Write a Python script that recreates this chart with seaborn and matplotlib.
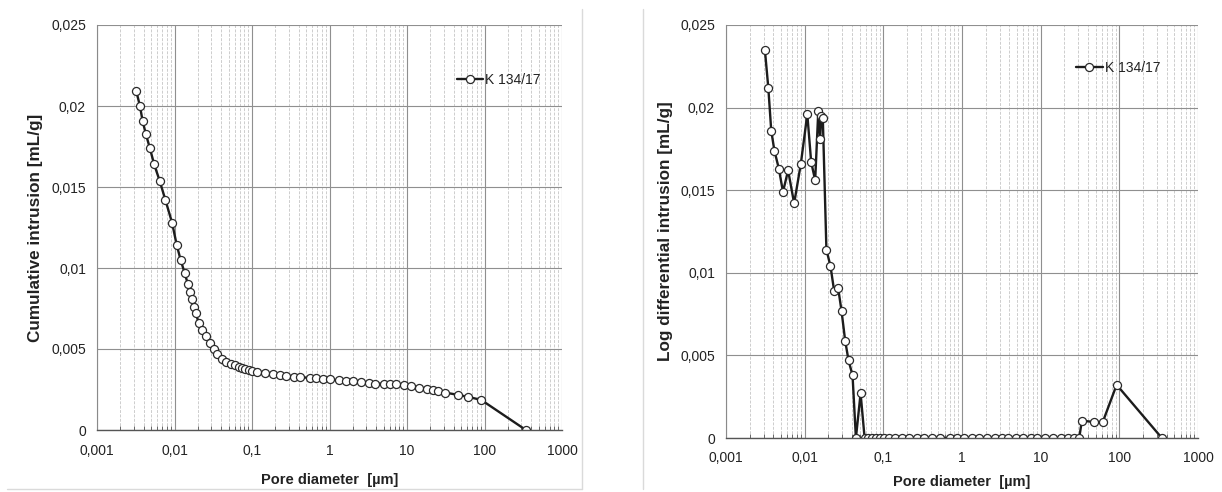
import numpy as np
import pandas as pd
import matplotlib
matplotlib.use("Agg")
import matplotlib.pyplot as plt
from matplotlib.lines import Line2D
from matplotlib.ticker import LogLocator, NullFormatter
import seaborn as sns

# --- cumulative intrusion curve (pore diameter in µm, volume in mL/g) ---
cum_diameter = [0.00322, 0.00358, 0.00387, 0.00425, 0.00481, 0.00546, 0.00642, 0.00763,
                0.0093, 0.0107, 0.012, 0.0135, 0.0149, 0.016, 0.017, 0.0179, 0.0188,
                0.0206, 0.0227, 0.0256, 0.0286, 0.0319, 0.0356, 0.0406, 0.0468, 0.0533,
                0.060, 0.067, 0.0741, 0.0819, 0.0905, 0.100, 0.116, 0.149, 0.184, 0.227,
                0.278, 0.346, 0.419, 0.554, 0.677, 0.827, 1.03, 1.32, 1.62, 2.04, 2.54,
                3.19, 3.86, 5.01, 6.12, 7.26, 9.14, 11.4, 14.2, 17.9, 21.8, 25.4, 31.0,
                45.4, 60.6, 90.5, 342]
cum_volume = [0.0209, 0.0200, 0.0191, 0.0183, 0.0174, 0.0164, 0.0154, 0.0142,
              0.0128, 0.0114, 0.0105, 0.0097, 0.0090, 0.0085, 0.0081, 0.0076, 0.0072,
              0.0066, 0.0062, 0.0058, 0.0054, 0.0050, 0.0047, 0.0044, 0.0042, 0.0041,
              0.0040, 0.0039, 0.0038, 0.00375, 0.0037, 0.00364, 0.00358, 0.00352, 0.00346, 0.0034,
              0.00333, 0.00328, 0.00326, 0.00322, 0.00318, 0.00316, 0.00312, 0.00306, 0.00304, 0.0030, 0.00296,
              0.00291, 0.00287, 0.00285, 0.00283, 0.00281, 0.00275, 0.00269, 0.0026, 0.00252, 0.00246, 0.00242, 0.00231,
              0.00217, 0.00205, 0.00186, 0.0]

# --- log differential intrusion curve ---
diff_diameter = [0.00312, 0.00345, 0.00376, 0.00412, 0.0047, 0.0053, 0.00616, 0.00735,
                 0.00894, 0.0108, 0.0121, 0.0136, 0.0149, 0.0157, 0.0163, 0.0170,
                 0.0189, 0.0213, 0.0237, 0.0266, 0.0294, 0.0327, 0.0361, 0.0406,
                 0.0448, 0.0514, 0.0578, 0.0644, 0.0717, 0.0806, 0.0906, 0.102, 0.118,
                 0.142, 0.175, 0.215, 0.267, 0.330, 0.410, 0.532, 0.695, 0.855, 1.05,
                 1.33, 1.64, 2.08, 2.64, 3.24, 3.87, 4.91, 6.04, 7.43, 8.89, 11.3, 14.3,
                 18.1, 22.3, 26.6, 30.9, 33.4, 47.2, 61.6, 92.4, 347]
diff_volume = [0.0235, 0.0212, 0.0186, 0.0174, 0.0163, 0.0149, 0.0162, 0.0142,
               0.0166, 0.0196, 0.0167, 0.0156, 0.0198, 0.0181, 0.0195, 0.0194,
               0.0114, 0.0104, 0.0089, 0.0091, 0.0077, 0.0059, 0.0047, 0.0038,
               0.0, 0.0027, 0.0, 0.0, 0.0, 0.0, 0.0, 0.0, 0.0,
               0.0, 0.0, 0.0, 0.0, 0.0, 0.0, 0.0, 0.0, 0.0, 0.0,
               0.0, 0.0, 0.0, 0.0, 0.0, 0.0, 0.0, 0.0, 0.0, 0.0, 0.0, 0.0,
               0.0, 0.0, 0.0, 0.0, 0.00105, 0.00097, 0.00097, 0.00322, 0.0]

sample_name = "K 134/17"

x_ticks = [0.001, 0.01, 0.1, 1, 10, 100, 1000]
x_tick_labels = ["0,001", "0,01", "0,1", "1", "10", "100", "1000"]
y_ticks = [0, 0.005, 0.01, 0.015, 0.02, 0.025]
y_tick_labels = ["0", "0,005", "0,01", "0,015", "0,02", "0,025"]

x_title = "Pore diameter  [µm]"
y_title_left = "Cumulative intrusion [mL/g]"
y_title_right = "Log differential intrusion [mL/g]"

sns.set_theme(style="white")
plt.rcParams["font.family"] = ["Liberation Sans", "DejaVu Sans"]

W, H = 1222, 492
fig = plt.figure(figsize=(W / 100, H / 100), dpi=100)
fig.patch.set_facecolor("white")

ax1 = fig.add_axes([97 / W, 1 - 430 / H, 465 / W, 405 / H])
ax2 = fig.add_axes([726 / W, 1 - 438 / H, 472 / W, 413 / H])

line_kw = dict(sort=False, estimator=None, color="#1c1c1c", linewidth=1.7,
               marker="o", markersize=5.8, markerfacecolor="white",
               markeredgecolor="#2a2a2a", markeredgewidth=0.9)

df_cum = pd.DataFrame({"d": cum_diameter, "v": cum_volume})
df_diff = pd.DataFrame({"d": diff_diameter, "v": diff_volume})

sns.lineplot(data=df_cum, x="d", y="v", ax=ax1, label=sample_name, **line_kw)
sns.lineplot(data=df_diff, x="d", y="v", ax=ax2, label=sample_name, **line_kw)


def style_axes(ax, ylabel, xpad, legend_anchor, ylabel_x, xlabel_y):
    ax.set_xscale("log")
    ax.set_xlim(1e-3, 1e3)
    ax.set_ylim(0, 0.025)
    ax.set_xticks(x_ticks)
    ax.set_xticklabels(x_tick_labels)
    ax.xaxis.set_minor_locator(LogLocator(base=10, subs=np.arange(2, 10)))
    ax.xaxis.set_minor_formatter(NullFormatter())
    ax.set_yticks(y_ticks)
    ax.set_yticklabels(y_tick_labels)
    ax.set_axisbelow(True)
    ax.grid(True, which="major", color="#8f8f8f", linewidth=0.8)
    ax.grid(True, which="minor", axis="x", color="#cdcdcd", linewidth=0.7,
            linestyle=(0, (3, 1.5)))
    for side in ("top", "right"):
        ax.spines[side].set_visible(False)
    ax.spines["left"].set_color("#8a8a8a")
    ax.spines["left"].set_linewidth(0.8)
    ax.spines["bottom"].set_color("#555555")
    ax.spines["bottom"].set_linewidth(1.0)
    ax.tick_params(axis="y", which="major", length=0, pad=8, labelsize=10,
                   labelcolor="#222222")
    ax.tick_params(axis="x", which="major", direction="inout", length=6,
                   width=0.8, color="#555555", pad=xpad, labelsize=10,
                   labelcolor="#222222")
    ax.tick_params(axis="x", which="minor", direction="in", length=3,
                   width=0.7, color="#666666", bottom=True)
    ax.set_xlabel(x_title, fontsize=10.5, fontweight="bold", color="#222222")
    ax.set_ylabel(ylabel, fontsize=12.3, fontweight="bold", color="#222222")
    ax.yaxis.set_label_coords(ylabel_x, 0.5)
    ax.xaxis.set_label_coords(0.5, xlabel_y)
    ax.legend(loc="center left", bbox_to_anchor=legend_anchor, frameon=False,
              handlelength=1.9, handletextpad=0.15, borderaxespad=0, borderpad=0,
              fontsize=10, labelcolor="#222222")


style_axes(ax1, y_title_left, 7, (0.774, 0.864), -0.116, -0.105)
style_axes(ax2, y_title_right, 6, (0.742, 0.896), -0.112, -0.09)

# light panel borders
border = "#dadada"
fig.add_artist(Line2D([582 / W, 582 / W], [1 - 9 / H, 1 - 489 / H],
                      transform=fig.transFigure, color=border, lw=1))
fig.add_artist(Line2D([7 / W, 582 / W], [1 - 489 / H, 1 - 489 / H],
                      transform=fig.transFigure, color=border, lw=1))
fig.add_artist(Line2D([643 / W, 643 / W], [1 - 9 / H, 1 - 489 / H],
                      transform=fig.transFigure, color=border, lw=1))

fig.savefig("out.png", dpi=100, facecolor="white")
